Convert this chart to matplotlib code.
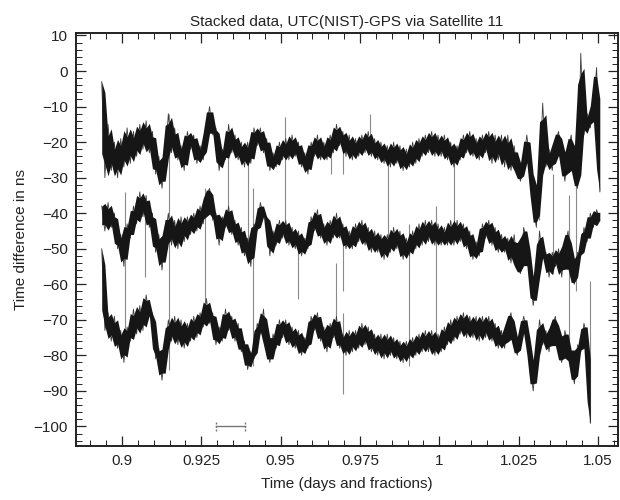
import numpy as np
import matplotlib
matplotlib.use("Agg")
import matplotlib.pyplot as plt
from matplotlib.ticker import MultipleLocator, FuncFormatter

plt.rcParams['font.family'] = ['Liberation Sans', 'DejaVu Sans']

# ---- data (ns), sampled every 0.001 day starting at t0 ----
t0 = 0.8936
dt = 0.001

top_trace = [
    -3, -30, -15, -28, -20, -30, -19, -27, -16, -26, -17, -24, -15, -22, -14, -23,
    -17, -29, -24, -33, -25, -12, -23, -16, -25, -21, -28, -17, -22, -18, -26, -21,
    -25, -16, -10, -18, -16, -28, -22, -25, -15, -23, -18, -25, -20, -27, -20, -26,
    -16, -21, -16, -23, -19, -28, -23, -27, -20, -25, -19, -25, -18, -24, -20, -27,
    -23, -29, -20, -24, -18, -25, -20, -25, -18, -23, -15, -21, -17, -24, -18, -25,
    -19, -24, -18, -23, -17, -24, -19, -25, -20, -26, -21, -27, -20, -26, -21, -28,
    -22, -27, -20, -26, -19, -24, -18, -23, -17, -24, -18, -24, -18, -25, -20, -27,
    -21, -25, -18, -23, -17, -24, -19, -25, -18, -23, -17, -26, -18, -25, -18, -27,
    -18, -28, -21, -28, -31, -25, -18, -26, -38, -44, -30, -9, -27, -22, -28, -20,
    -17, -25, -31, -22, -18, -30, -33, 5, -18, -12, -16, -9, 1, -34,
]

mid_trace = [
    -38, -45, -37, -44, -40, -50, -46, -55, -43, -47, -38, -43, -34, -41, -35, -44,
    -40, -51, -46, -56, -47, -40, -49, -42, -50, -41, -48, -41, -46, -40, -45, -38,
    -43, -35, -33, -42, -40, -49, -41, -44, -38, -46, -42, -49, -44, -52, -47, -55,
    -43, -45, -37, -41, -41, -52, -45, -49, -42, -47, -42, -49, -44, -50, -45, -52,
    -47, -50, -41, -45, -39, -47, -43, -49, -42, -47, -40, -47, -43, -50, -45, -50,
    -43, -48, -42, -49, -44, -51, -45, -51, -46, -53, -46, -51, -44, -50, -45, -53,
    -47, -52, -45, -50, -43, -49, -42, -48, -42, -49, -43, -49, -44, -49, -42, -49,
    -42, -48, -43, -50, -45, -53, -48, -52, -43, -47, -42, -49, -44, -51, -46, -51,
    -47, -54, -46, -55, -57, -44, -48, -57, -66, -60, -45, -53, -51, -58, -51, -55,
    -50, -58, -49, -45, -58, -60, -51, -52, -44, -48, -40, -44, -39, -42,
]

bot_trace = [
    -50, -73, -68, -76, -69, -78, -73, -82, -72, -76, -67, -74, -66, -73, -63, -69,
    -68, -81, -78, -87, -79, -70, -76, -69, -77, -70, -78, -71, -76, -69, -75, -68,
    -72, -64, -71, -68, -77, -72, -76, -67, -73, -69, -76, -71, -79, -76, -84, -79,
    -81, -71, -74, -67, -78, -82, -74, -78, -70, -75, -70, -77, -72, -78, -73, -80,
    -75, -78, -69, -73, -68, -76, -72, -79, -71, -75, -69, -78, -74, -80, -73, -79,
    -73, -78, -71, -77, -72, -79, -74, -80, -74, -81, -74, -80, -75, -81, -76, -82,
    -76, -81, -75, -80, -74, -79, -73, -79, -73, -80, -74, -79, -72, -77, -70, -76,
    -69, -74, -68, -75, -69, -75, -69, -76, -69, -75, -69, -76, -71, -78, -73, -78,
    -71, -68, -77, -80, -74, -69, -73, -82, -90, -81, -70, -77, -73, -79, -72, -69,
    -79, -82, -73, -77, -83, -88, -77, -79, -71, -75, -99,
]

# outlier spikes: time, low end, high end (ns)
spike_t = [0.9009, 0.9073, 0.9147, 0.9262, 0.9335, 0.9398, 0.9414, 0.9515, 0.9556,
           0.9660, 0.9675, 0.9698, 0.9698, 0.9698, 0.9783, 0.9837, 0.9903, 0.9991,
           1.0045, 1.0313, 1.0360, 1.0408, 1.0430, 1.0476]
spike_lo = [-80, -58, -84, -68, -40, -50, -83, -42, -64,
            -29, -74, -91, -62, -29, -20, -48, -83, -76,
            -48, -42, -57, -82, -62, -99]
spike_hi = [-34, -36, -12, -33, -23, -24, -33, -13, -46,
            -21, -54, -68, -47, -22, -12, -24, -43, -38,
            -25, -26, -29, -35, -31, -59]

# scale bar
bar_t = [0.9297, 0.9387]
bar_y = -100

x_ticks = [0.9, 0.925, 0.95, 0.975, 1.0, 1.025, 1.05]

# ---- plot ----
fig = plt.figure(figsize=(6.2, 5.0), dpi=100)
ax = fig.add_axes([0.1226, 0.108, 0.874, 0.826])

ax.vlines(spike_t, spike_lo, spike_hi, color='#8a8a8a', lw=0.8, zorder=2)

for tr in (top_trace, mid_trace, bot_trace):
    v = np.asarray(tr, dtype=float)
    t = t0 + dt * np.arange(len(v))
    # dense-noise look: shade the local (3-sample) range of the trace
    pad = np.concatenate(([v[0]], v, [v[-1]]))
    win = np.vstack([pad[:-2], pad[1:-1], pad[2:]])
    med = np.sort(win, axis=0)[1]
    band_lo = 0.25 * med + 0.75 * win.min(axis=0)
    band_hi = 0.25 * med + 0.75 * win.max(axis=0)
    ax.plot(t, v, color='#3a3a3a', lw=0.6, zorder=3)
    ax.fill_between(t, band_lo, band_hi, color='#161616', lw=0, zorder=4)

ax.plot(bar_t, [bar_y, bar_y], color='#777777', lw=1.0)
ax.vlines(bar_t, bar_y - 1.2, bar_y + 1.2, color='#777777', lw=1.0, linestyles=(0, (1.5, 1)))

ax.set_xlim(0.8855, 1.0563)
ax.set_ylim(-105.5, 10.7)

ax.set_xticks(x_ticks)
ax.xaxis.set_major_formatter(FuncFormatter(lambda v, p: f"{v:g}"))
ax.xaxis.set_minor_locator(MultipleLocator(0.005))
ax.yaxis.set_major_locator(MultipleLocator(10))
ax.yaxis.set_minor_locator(MultipleLocator(2))

ax.tick_params(which='both', direction='in', top=True, right=True, labelsize=11, colors='#222222')
ax.tick_params(which='major', length=7, width=0.9, pad=6)
ax.tick_params(which='minor', length=4, width=0.7)
for s in ax.spines.values():
    s.set_linewidth(1.4)
    s.set_color('#222222')

ax.set_title("Stacked data, UTC(NIST)-GPS via Satellite 11", fontsize=11, pad=5, color='#222222')
ax.set_xlabel("Time (days and fractions)", fontsize=11, labelpad=6, color='#222222')
ax.set_ylabel("Time difference in ns", fontsize=11, labelpad=4, color='#222222')

fig.savefig("out.png", dpi=100)
